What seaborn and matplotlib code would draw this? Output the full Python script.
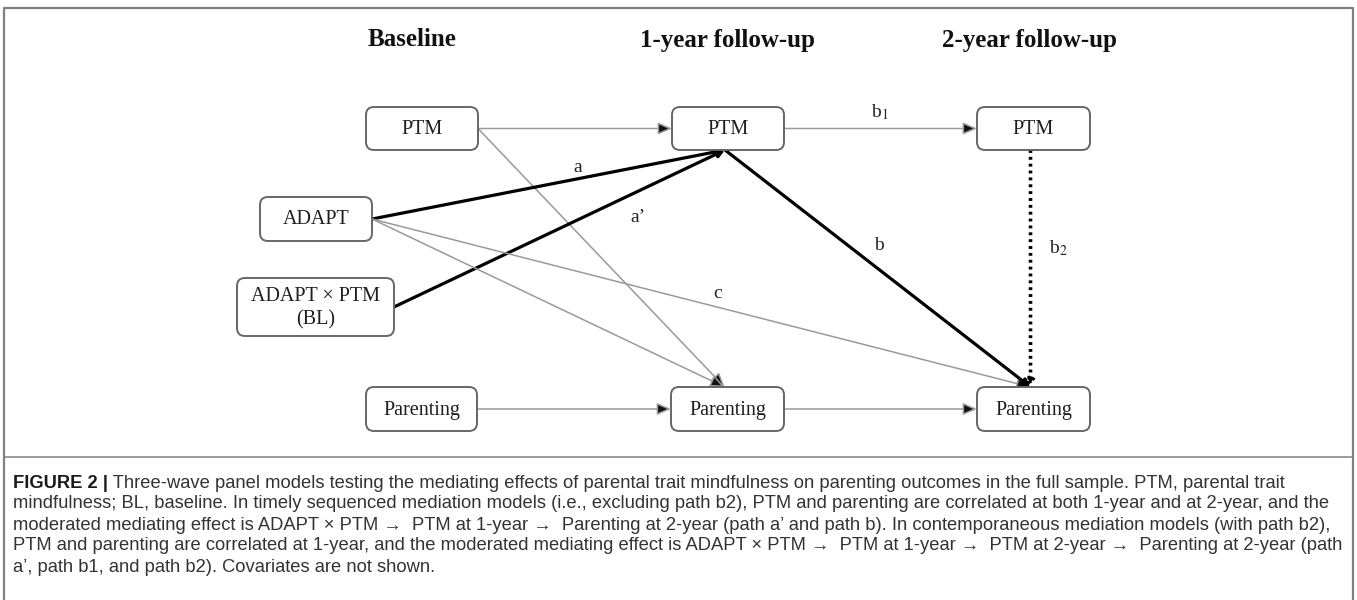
import matplotlib
matplotlib.use("Agg")
import matplotlib.pyplot as plt
from matplotlib.patches import FancyBboxPatch
from matplotlib import font_manager
import seaborn as sns

# ---------------- data ----------------
headers = ["Baseline", "1-year follow-up", "2-year follow-up"]

node_ids = ["PTM_BL", "ADAPT", "ADAPTxPTM", "PAR_BL",
            "PTM_1Y", "PAR_1Y", "PTM_2Y", "PAR_2Y"]
node_labels = ["PTM", "ADAPT", "ADAPT \u00d7 PTM\n(BL)", "Parenting",
               "PTM", "Parenting", "PTM", "Parenting"]

edge_src = ["PTM_BL", "PTM_BL", "ADAPT", "ADAPTxPTM", "ADAPT", "ADAPT",
            "PTM_1Y", "PTM_1Y", "PTM_2Y", "PAR_BL", "PAR_1Y"]
edge_dst = ["PTM_1Y", "PAR_1Y", "PTM_1Y", "PTM_1Y", "PAR_1Y", "PAR_2Y",
            "PAR_2Y", "PTM_2Y", "PAR_2Y", "PAR_1Y", "PAR_2Y"]
edge_kind = ["thin", "thin", "thick", "thick", "thin", "thin",
             "thick", "thin", "dotted", "thin", "thin"]
edge_labels = ["", "", "a", "a\u2019", "", "c", "b", r"b$_1$", r"b$_2$", "", ""]

caption_bold = "FIGURE 2 |"
caption_lines = [
    " Three-wave panel models testing the mediating effects of parental trait mindfulness on parenting outcomes in the full sample. PTM, parental trait",
    "mindfulness; BL, baseline. In timely sequenced mediation models (i.e., excluding path b2), PTM and parenting are correlated at both 1-year and at 2-year, and the",
    "moderated mediating effect is ADAPT \u00d7 PTM \u2192  PTM at 1-year \u2192  Parenting at 2-year (path a\u2019 and path b). In contemporaneous mediation models (with path b2),",
    "PTM and parenting are correlated at 1-year, and the moderated mediating effect is ADAPT \u00d7 PTM \u2192  PTM at 1-year \u2192  PTM at 2-year \u2192  Parenting at 2-year (path",
    "a\u2019, path b1, and path b2). Covariates are not shown.",
]

# ---------------- layout (pixel coordinates) ----------------
header_x = [412, 728, 1030]
header_y = 40
box_geom = {  # x0, x1, y0, y1
    "PTM_BL": (366, 478, 107, 150),
    "ADAPT": (260, 372, 197, 241),
    "ADAPTxPTM": (237, 394, 278, 336),
    "PAR_BL": (366, 477, 387, 431),
    "PTM_1Y": (672, 784, 107, 150),
    "PAR_1Y": (671, 784, 387, 431),
    "PTM_2Y": (977, 1090, 107, 150),
    "PAR_2Y": (977, 1090, 387, 431),
}
edge_sides = [("R", "L"), ("R", "T"), ("R", "B"), ("R", "B"), ("R", "T"), ("R", "T"),
              ("B", "T"), ("R", "L"), ("B", "T"), ("R", "L"), ("R", "L")]
label_pos = [None, None, (578, 167), (638, 217), None, (718, 293),
             (879, 245), (880, 112), (1058, 248), None, None]

# ---------------- style ----------------
sns.set_theme(style="white")
plt.rcParams["mathtext.fontset"] = "stix"


def pick(names):
    for n in names:
        try:
            font_manager.findfont(font_manager.FontProperties(family=n),
                                  fallback_to_default=False)
            return n
        except Exception:
            pass
    return "DejaVu Sans"


serif = pick(["Liberation Serif", "DejaVu Serif"])
narrow = pick(["Liberation Sans Narrow", "Liberation Sans"])

fig = plt.figure(figsize=(13.57, 6.0), dpi=100)
fig.patch.set_facecolor("white")
ax = fig.add_axes([0, 0, 1, 1])
ax.set_xlim(0, 1357)
ax.set_ylim(600, 0)
ax.axis("off")

# frame
frame_c = "#808080"
ax.plot([4, 4, 1353, 1353], [600, 8, 8, 600], color=frame_c, lw=1.6, zorder=1)
ax.plot([4, 1353], [457, 457], color=frame_c, lw=1.1, zorder=1)

# headers
for h, hx in zip(headers, header_x):
    ax.text(hx, header_y, h, family=serif, fontweight="bold", fontsize=18,
            ha="center", va="center", color="#111111")

# nodes
for nid, lab in zip(node_ids, node_labels):
    x0, x1, y0, y1 = box_geom[nid]
    ax.add_patch(FancyBboxPatch((x0, y0), x1 - x0, y1 - y0,
                                boxstyle="round,pad=0,rounding_size=8",
                                fc="white", ec="#666666", lw=1.4, zorder=5))
    ax.text((x0 + x1) / 2, (y0 + y1) / 2 + 1, lab, family=serif, fontsize=14.5,
            ha="center", va="center", color="#1e1e1e", linespacing=1.3, zorder=6)


def anchor(nid, side):
    x0, x1, y0, y1 = box_geom[nid]
    xc, yc = (x0 + x1) / 2, (y0 + y1) / 2
    return {"L": (x0, yc), "R": (x1, yc), "T": (xc - 3, y0), "B": (xc - 3, y1)}[side]


styles = {
    "thin": dict(ec="#9a9a9a", fc="#111111", lw=1.1, ls="-", hl=0.7, hw=0.3),
    "thick": dict(ec="#000000", fc="#000000", lw=2.3, ls="-", hl=0.35, hw=0.18),
    "dotted": dict(ec="#000000", fc="#000000", lw=2.6, ls=(0, (0.8, 1.1)), hl=0.35, hw=0.2),
}

for s, d, k, lab, (ss, ds), lp in zip(edge_src, edge_dst, edge_kind, edge_labels,
                                       edge_sides, label_pos):
    p0 = anchor(s, ss)
    p1 = anchor(d, ds)
    st = styles[k]
    ax.annotate("", xy=p1, xytext=p0,
                arrowprops=dict(arrowstyle=f"-|>,head_length={st['hl']},head_width={st['hw']}",
                                ec=st["ec"], fc=st["fc"], lw=st["lw"], ls=st["ls"],
                                capstyle="butt", shrinkA=0, shrinkB=0, mutation_scale=12),
                zorder=3)
    if lab and lp is not None:
        ax.text(lp[0], lp[1], lab, family=serif, fontsize=14, ha="center",
                va="center", color="#222222", zorder=4)

# caption
fig.canvas.draw()
renderer = fig.canvas.get_renderer()
probe = ax.text(0, 0, caption_lines[2], family=[narrow, "DejaVu Sans"], fontsize=10)
w10 = probe.get_window_extent(renderer).width
probe.remove()
cap_size = 10 * 1318 / w10

cap_x = 13
cap_y = [483, 504, 525, 546, 567]
tb = ax.text(cap_x, cap_y[0], caption_bold, family=[narrow, "DejaVu Sans"],
             fontweight="bold", fontsize=cap_size, ha="left", va="center",
             color="#1a1a1a")
bw = tb.get_window_extent(renderer).width
for i, line in enumerate(caption_lines):
    x = cap_x + (bw if i == 0 else 0)
    ax.text(x, cap_y[i], line, family=[narrow, "DejaVu Sans"], fontsize=cap_size,
            ha="left", va="center", color="#333333")

fig.savefig("out.png", dpi=100, facecolor="white")
